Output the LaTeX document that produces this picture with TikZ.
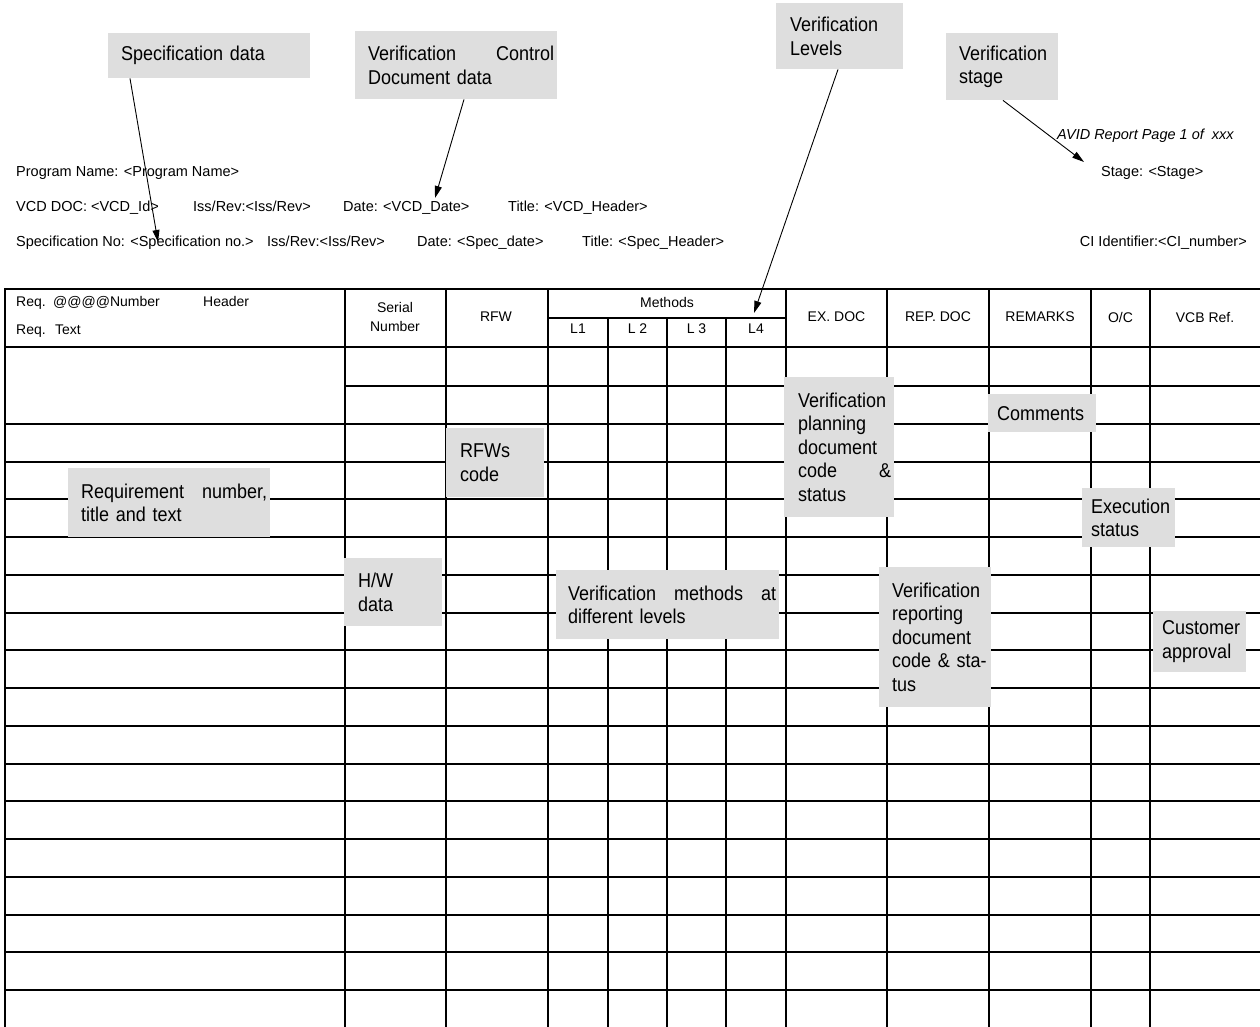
\documentclass[tikz,border=0pt]{standalone}
\usepackage{fontspec}
\setmainfont{Liberation Sans}
\newfontfamily\calfont{Liberation Sans}[FakeStretch=0.9]
\usetikzlibrary{arrows.meta}
\definecolor{calloutgray}{RGB}{222,222,222}

\begin{document}
\begin{tikzpicture}[x=1pt,y=-1pt,
  tline/.style={line width=2pt, line cap=rect},
  callout/.style={fill=calloutgray, inner sep=0pt, anchor=north west, align=left,
    font=\calfont\fontsize{20}{23.5}\selectfont},
  lpad/.style={execute at begin node={\leftskip=#1\relax}},
  small/.style={inner sep=0pt, anchor=base west, font=\fontsize{14.5}{17}\selectfont},
  hdr/.style={inner sep=0pt, align=center, font=\fontsize{14}{19}\selectfont},
  hdrl/.style={inner sep=0pt, anchor=base west, font=\fontsize{14}{19}\selectfont},
  pointer/.style={line width=0.9pt, -{Triangle[length=12pt,width=7pt]}}]

\useasboundingbox (0,0) rectangle (1260,1026);

% ---------- report heading lines ----------
\node[small, font=\itshape\fontsize{14.5}{17}\selectfont] (avid) at (1057,139) {AVID Report Page 1 of\ \ xxx};
\node[small] (prog)  at (16,176)   {Program Name: <Program Name>};
\node[small] (stage) at (1101,176) {Stage: <Stage>};
\node[small] (vcddoc)  at (16,211)  {VCD DOC: <VCD\_Id>};
\node[small] (vcdiss)  at (193,211) {Iss/Rev:<Iss/Rev>};
\node[small] (vcddate) at (343,211) {Date: <VCD\_Date>};
\node[small] (vcdtitle) at (508,211) {Title: <VCD\_Header>};
\node[small] (specno)   at (16,246)  {Specification No: <Specification no.>};
\node[small] (speciss)  at (267,246) {Iss/Rev:<Iss/Rev>};
\node[small] (specdate) at (417,246) {Date: <Spec\_date>};
\node[small] (spectitle) at (582,246) {Title: <Spec\_Header>};
\node[small, anchor=base east] (ci) at (1247,246) {CI Identifier:<CI\_number>};

% ---------- table rules ----------
\foreach \y in {289,347}
  \draw[tline] (5,\y) -- (1260,\y);
\draw[tline] (345,385.5) -- (1260,385.5);
\foreach \k in {0,...,15}
  \draw[tline] (5,{424+37.73*\k}) -- (1260,{424+37.73*\k});
\draw[tline] (548,317.5) -- (786,317.5);
\foreach \x in {5,345,446,548,786,887,989,1091,1150}
  \draw[tline] (\x,289) -- (\x,1026);
\foreach \x in {608,667,726}
  \draw[tline] (\x,317.5) -- (\x,1026);

% ---------- column headings ----------
\node[hdrl] (rq1)  at (16,306)  {Req.};
\node[hdrl] (rqn)  at (53,306)  {@@@@Number};
\node[hdrl] (rqh)  at (203,306) {Header};
\node[hdrl] (rq2)  at (16,334)  {Req.};
\node[hdrl] (rqt)  at (55,334)  {Text};
\node[hdr] (serial) at (395,317) {Serial\\Number};
\node[hdr] (rfw)    at (496,317) {RFW};
\node[hdr] (meth)   at (667,302) {Methods};
\node[hdr] (l1)     at (578,329) {L1};
\node[hdr] (l2)     at (637.5,329) {L 2};
\node[hdr] (l3)     at (696.5,329) {L 3};
\node[hdr] (l4)     at (756,329) {L4};
\node[hdr] (exdoc)  at (836.5,317) {EX. DOC};
\node[hdr] (repdoc) at (938,317)  {REP. DOC};
\node[hdr] (rem)    at (1040,317) {REMARKS};
\node[hdr] (oc)     at (1120.5,317) {O/C};
\node[hdr] (vcb)    at (1205,317) {VCB Ref.};

% ---------- callouts ----------
\node[callout, minimum width=202pt, minimum height=45pt, text width=196pt, lpad=10pt]
  (specbox) at (108,33) {Specification data};
\node[callout, minimum width=202pt, minimum height=68pt, text width=196pt, lpad=10pt]
  (vcdbox) at (355,31) {Verification\hfill Control\\Document data};
\node[callout, minimum width=127pt, minimum height=66pt, text width=121pt, lpad=11pt]
  (lvlbox) at (776,3) {Verification\\Levels};
\node[callout, minimum width=112pt, minimum height=67pt, text width=106pt, lpad=10pt]
  (stgbox) at (946,33) {Verification\\stage};

\node[callout, minimum width=202pt, minimum height=69pt, text width=196pt, lpad=10pt]
  (reqbox) at (68,468) {Requirement\hfill number,\\title and text};
\node[callout, minimum width=98pt, minimum height=69pt, text width=92pt, lpad=11pt]
  (rfwbox) at (446,428) {RFWs\\code};
\node[callout, minimum width=110pt, minimum height=140pt, text width=104pt, lpad=11pt]
  (planbox) at (784,377) {Verification\\planning\\document\\code\hfill\&\hspace*{4pt}\\status};
\node[callout, minimum width=108pt, minimum height=38pt, text width=102pt, lpad=6pt]
  (combox) at (988,394) {Comments};
\node[callout, minimum width=93pt, minimum height=59pt, text width=87pt, lpad=6pt]
  (exebox) at (1082,488) {Execution\\status};
\node[callout, minimum width=98pt, minimum height=68pt, text width=92pt, lpad=11pt]
  (hwbox) at (344,558) {H/W\\data};
\node[callout, minimum width=223pt, minimum height=69pt, text width=217pt, lpad=9pt]
  (vmbox) at (556,570) {Verification\hfill methods\hfill at\\different levels};
\node[callout, minimum width=112pt, minimum height=140pt, text width=106pt, lpad=10pt]
  (repbox) at (879,567) {Verification\\reporting\\document\\code \& sta-\\tus};
\node[callout, minimum width=93pt, minimum height=61pt, text width=87pt, lpad=6pt]
  (custbox) at (1153,611) {Customer\\approval};

% ---------- pointers ----------
\coordinate (spectip) at (158,242);
\coordinate (vcdtip)  at (435,198);
\coordinate (lvltip)  at (754,313);
\coordinate (stgtip)  at (1084,162);
\draw[pointer] ([xshift=22pt]specbox.south west) -- (spectip);
\draw[pointer] ([xshift=109pt]vcdbox.south west) -- (vcdtip);
\draw[pointer] ([xshift=62pt]lvlbox.south west) -- (lvltip);
\draw[pointer] ([xshift=57pt]stgbox.south west) -- (stgtip);
\end{tikzpicture}
\end{document}
